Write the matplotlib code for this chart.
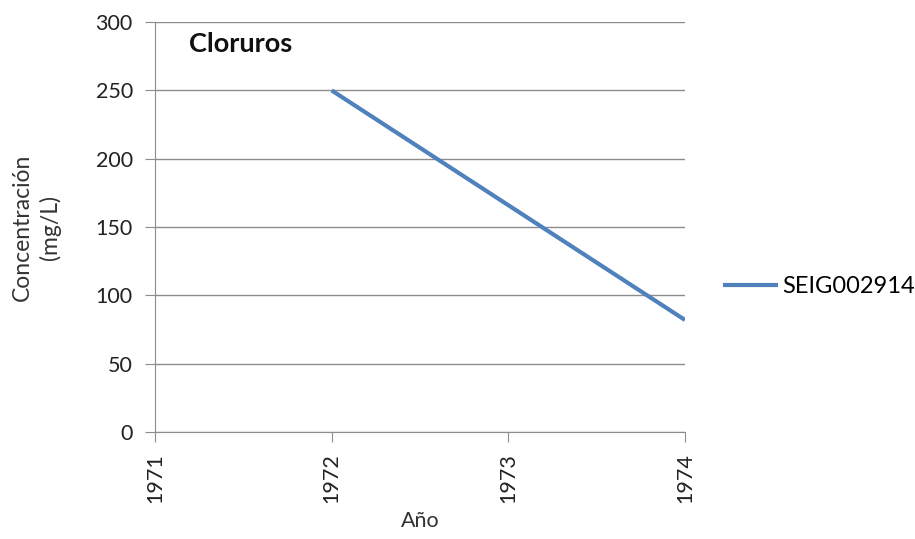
import matplotlib
matplotlib.use("Agg")
from matplotlib import pyplot as plt

plt.rcParams["font.family"] = ["Lato", "DejaVu Sans"]

# Chloride concentration series
years = [1972, 1974]
chlorides = [250, 82]
series_name = "SEIG002914"
x_ticks = [1971, 1972, 1973, 1974]
y_ticks = [0, 50, 100, 150, 200, 250, 300]

fig = plt.figure(figsize=(9.15, 5.39), dpi=100)
ax = fig.add_axes([0.1694, 0.1985, 0.7486 - 0.1694, 0.959 - 0.1985])

ax.plot(years, chlorides, color="#4F81BD", linewidth=3, solid_capstyle="butt", label=series_name)

ax.set_xlim(1971, 1974)
ax.set_ylim(0, 300)
ax.set_xticks(x_ticks)
ax.set_xticklabels([str(y) for y in x_ticks], rotation=90)
ax.set_yticks(y_ticks)

ax.grid(axis="y", color="#8c8c8c", linewidth=1)
ax.set_axisbelow(True)
for side in ("top", "right"):
    ax.spines[side].set_visible(False)
for side in ("left", "bottom"):
    ax.spines[side].set_color("#8c8c8c")
ax.tick_params(axis="both", colors="#8c8c8c", labelcolor="#222222", labelsize=15.5, length=7)
ax.tick_params(axis="y", pad=9)
ax.tick_params(axis="x", pad=8)

ax.set_xlabel("Año", fontsize=15.5, color="#333333", labelpad=6)
ax.set_ylabel("Concentración\n(mg/L)", fontsize=16.5, color="#333333", labelpad=25,
              linespacing=1.3)
ax.text(0.065, 0.975, "Cloruros", transform=ax.transAxes, fontsize=19.5,
        fontweight="bold", color="#111111", va="top")

ax.legend(loc="center left", bbox_to_anchor=(1.072, 0.354), frameon=False,
          borderaxespad=0, borderpad=0, fontsize=17, handlelength=2.33,
          handletextpad=0.17)

fig.savefig("out.png", dpi=100)
